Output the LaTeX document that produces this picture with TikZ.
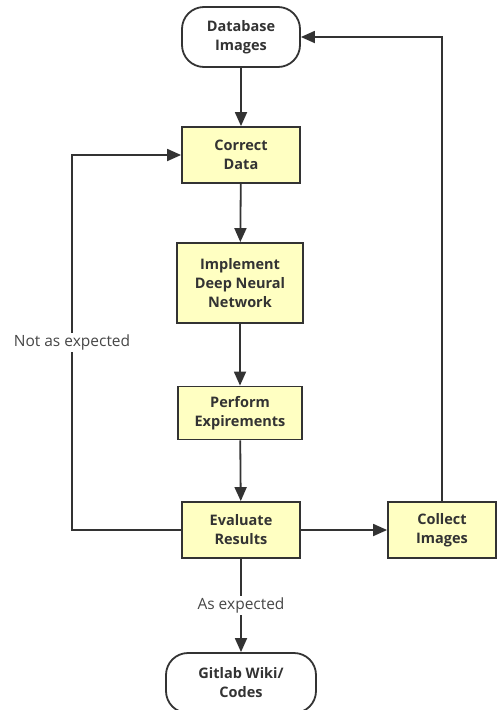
\documentclass[tikz,border=0pt]{standalone}
\usepackage{fontspec}
\setmainfont{Open Sans}
\usetikzlibrary{arrows.meta}
\definecolor{boxfill}{HTML}{FFFFC2}
\definecolor{ink}{HTML}{333333}

\begin{document}
\begin{tikzpicture}[x=1pt,y=-1pt]
    \tikzstyle{box} = [draw=ink, line width=1.8pt, fill=boxfill, text=ink, align=center,
        font=\fontsize{14.5}{19}\selectfont\bfseries, minimum height=56pt]
    \tikzstyle{term} = [box, fill=white, rounded corners=22pt, minimum height=60pt]
    \tikzstyle{arr} = [draw=ink, line width=1.8pt, -{Triangle[length=14pt,width=12pt]}]
    \tikzstyle{ann} = [fill=white, text=ink!90, font=\fontsize{15.5}{18}\selectfont, inner sep=2pt]
    \useasboundingbox (0,0) rectangle (497,710);

    \node[term, minimum width=118pt] (1) at (241,37)  {Database\\Images};
    \node[box,  minimum width=118pt] (2) at (241,155) {Correct\\Data};
    \node[box,  minimum width=126pt, minimum height=80pt] (3) at (240,283) {Implement\\Deep Neural\\Network};
    \node[box,  minimum width=124pt, minimum height=53pt] (4) at (240,413) {Perform\\Expirements};
    \node[box,  minimum width=118pt] (5) at (241,530) {Evaluate\\Results};
    \node[box,  minimum width=108pt] (6) at (442,530) {Collect\\Images};
    \node[term, minimum width=150pt] (7) at (241,683) {Gitlab Wiki/\\Codes};
    \coordinate (8) at (72,530);

    \draw[arr] (1) -- (2);
    \draw[arr] (2) -- (3);
    \draw[arr] (3) -- (4);
    \draw[arr] (4) -- (5);
    \draw[arr] (5) -- (6);
    \draw[arr] (6.north) |- (1.east);
    \draw[arr] (5.west) -- (8) -- node[ann]{Not as expected} (8 |- 2.west) -- (2.west);
    \draw[arr] (5) -- node[ann]{As expected} (7);
\end{tikzpicture}
\end{document}
